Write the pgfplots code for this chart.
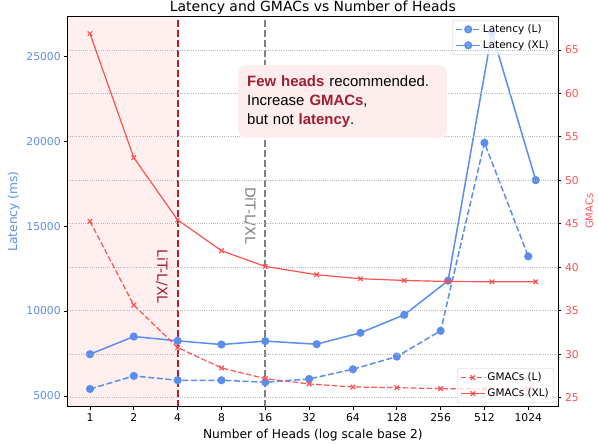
\documentclass[border=0pt]{standalone}
\usepackage{pgfplots}
\pgfplotsset{compat=1.18}
\usepackage{fontspec}
\setmainfont{DejaVu Sans}
\newfontfamily\arialfont{Liberation Sans}
\definecolor{latblue}{RGB}{91,141,239}
\definecolor{gmred}{RGB}{255,82,82}
\definecolor{litred}{RGB}{185,30,35}
\definecolor{emred}{RGB}{160,30,50}
\definecolor{shadepink}{RGB}{255,240,239}
\definecolor{boxpink}{RGB}{253,237,237}

\pgfplotstableread{
x y
1 5413
2 6180
4 5925
8 5925
16 5810
32 6000
64 6575
128 7320
256 8837
512 19917
1024 13223
}\latL
\pgfplotstableread{
x y
1 7460
2 8500
4 8247
8 8030
16 8230
36 8050
72 8720
144 9780
288 11790
576 26410
1152 17710
}\latXL
\pgfplotstableread{
x y
1 45.28
2 35.64
4 30.76
8 28.42
16 27.19
32 26.58
64 26.23
128 26.15
256 26.04
512 26.00
1024 25.98
}\gmL
\pgfplotstableread{
x y
1 66.87
2 52.60
4 45.44
8 41.90
16 40.09
36 39.14
72 38.68
144 38.48
288 38.36
576 38.33
1152 38.33
}\gmXL

\begin{document}
\begin{tikzpicture}
\begin{axis}[name=ax1,
  scale only axis, width=490.3bp, height=390.7bp,
  xmode=log, log basis x=2, xmin=0.7030, xmax=1638.4,
  xtick={1,2,4,8,16,32,64,128,256,512,1024},
  xticklabels={1,2,4,8,16,32,64,128,256,512,1024},
  tick align=outside, major tick length=3.5bp,
  tick style={black, line width=0.8bp},
  axis line style={line width=0.8bp},
  tick label style={font=\fontsize{10.8}{13}\selectfont},
  label style={font=\fontsize{12.3}{14}\selectfont},
  legend cell align=left,
  legend image code/.code={\draw[mark repeat=2,mark phase=2] plot coordinates {(0bp,0bp) (12bp,0bp) (24bp,0bp)};},
  legend style={draw=black!20, rounded corners=2bp, fill=white, fill opacity=0.8, text opacity=1,
    font=\fontsize{10.5}{12}\selectfont, inner xsep=3bp, inner ysep=2.5bp, row sep=2.5bp,
    at={(rel axis cs:0.9918,0.9898)}, anchor=north east},
  scaled y ticks=false,
  ymin=4368, ymax=27380,
  ytick={5000,10000,15000,20000,25000},
  yticklabels={5000,10000,15000,20000,25000},
  yticklabel style={text=latblue},
  ytick pos=left, xtick pos=left,
  ylabel={Latency (ms)}, ylabel style={text=latblue},
  xlabel={Number of Heads (log scale base 2)},
  title={Latency and GMACs vs Number of Heads},
  title style={font=\fontsize{14}{16}\selectfont, at={(0.5,1)}, anchor=base, yshift=-1bp},
]
\fill[shadepink] (rel axis cs:0,0) rectangle (axis cs:4,27380);
\draw[litred, line width=2bp, dash pattern=on 7bp off 3bp] (axis cs:4,4368) -- (axis cs:4,27380);
\draw[gray, line width=2bp, dash pattern=on 7bp off 3bp] (axis cs:16,4368) -- (axis cs:16,27380);
\node[rotate=-90, text=emred, font=\fontsize{14}{16}\selectfont] at (axis cs:3.12,12025) {LiT-L/XL};
\node[rotate=-90, text=gray, font=\fontsize{14}{16}\selectfont] at (axis cs:12.55,15625) {DiT-L/XL};
\addplot[latblue, line width=1.5bp, dash pattern=on 6bp off 2.6bp, mark=*, mark size=3.3bp, mark options={solid}] table {\latL};
\addlegendentry{Latency (L)}
\addplot[latblue, line width=1.5bp, mark=*, mark size=3.3bp, mark options={solid}] table {\latXL};
\addlegendentry{Latency (XL)}
\end{axis}
\begin{axis}[name=ax2,
  scale only axis, width=490.3bp, height=390.7bp,
  xmode=log, log basis x=2, xmin=0.7030, xmax=1638.4,
  xtick=\empty,
  tick align=outside, major tick length=3.5bp,
  tick style={black, line width=0.8bp},
  axis line style={line width=0.8bp},
  tick label style={font=\fontsize{10.8}{13}\selectfont},
  label style={font=\fontsize{12.3}{14}\selectfont},
  legend cell align=left,
  legend image code/.code={\draw[mark repeat=2,mark phase=2] plot coordinates {(0bp,0bp) (12bp,0bp) (24bp,0bp)};},
  legend style={draw=black!20, rounded corners=2bp, fill=white, fill opacity=0.8, text opacity=1,
    font=\fontsize{10.5}{12}\selectfont, inner xsep=3bp, inner ysep=2.5bp, row sep=2.5bp,
    at={(rel axis cs:0.9918,0.0095)}, anchor=south east},
  ymin=23.96, ymax=68.9,
  ytick={25,30,35,40,45,50,55,60,65},
  yticklabels={25,30,35,40,45,50,55,60,65},
  yticklabel style={text=gmred},
  ytick pos=right, yticklabel pos=right,
  ymajorgrids, major grid style={gray!55, line width=0.8bp, dash pattern=on 0.8bp off 1.4bp},
  ylabel={GMACs}, ylabel near ticks, ylabel style={text=gmred},
]
\addplot[gmred, line width=1.2bp, dash pattern=on 5.5bp off 2.4bp, mark=x, mark size=3.2bp, mark options={solid}] table {\gmL};
\addlegendentry{GMACs (L)}
\addplot[gmred, line width=1.2bp, mark=x, mark size=3.2bp, mark options={solid}] table {\gmXL};
\addlegendentry{GMACs (XL)}
\end{axis}
\node[anchor=north west, fill=boxpink, rounded corners=8bp, inner xsep=9bp, inner ysep=10.4bp,
  text width=191bp, align=left, font=\arialfont\fontsize{15}{19}\selectfont]
  at ([shift={(170.3bp,-49bp)}]ax1.north west)
  {\textbf{\textcolor{emred}{Few heads}} recommended.\\ Increase \textbf{\textcolor{emred}{GMACs}},\\ but not \textbf{\textcolor{emred}{latency}}.};
\pgfresetboundingbox
\path ([shift={(-67.7bp,-37.3bp)}]ax1.south west) rectangle ([shift={(41bp,16bp)}]ax1.north east);
\end{tikzpicture}
\end{document}
